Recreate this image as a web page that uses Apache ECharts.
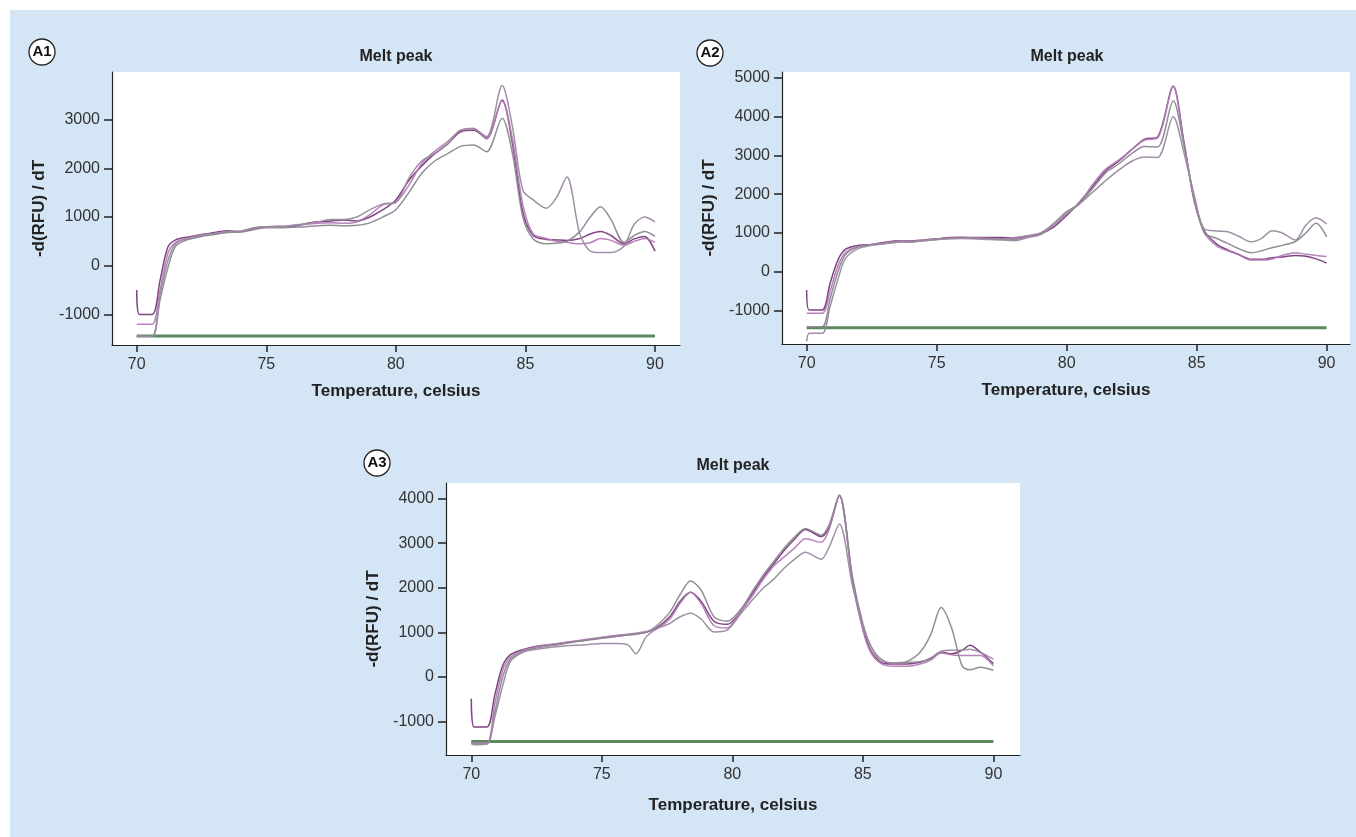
<!DOCTYPE html>
<html>
<head>
<meta charset="utf-8">
<script src="https://cdn.jsdelivr.net/npm/echarts@6/dist/echarts.min.js"></script>
<style>
  html, body { margin: 0; padding: 0; background: #fff; }
  #bg { position: absolute; left: 10px; top: 10px; width: 1346px; height: 827px; background: #d4e6f5; }
  #main { position: absolute; left: 0; top: 0; width: 1356px; height: 837px; }
</style>
</head>
<body>
<div id="bg"></div>
<div id="main"></div>
<script>
// temperature grids (celsius)
var tempsAB = [70, 70.1, 70.6, 70.9, 71.2, 71.5, 72, 72.5, 73, 73.5, 74, 74.5, 75, 75.5, 76, 76.5, 77, 77.5, 78, 78.5,
  79, 79.5, 80, 80.5, 81, 81.5, 82, 82.5, 83, 83.5, 84.1, 84.5, 84.9, 85.3, 85.8, 86.2, 86.6, 87.1, 87.5, 87.9,
  88.3, 88.8, 89.2, 89.6, 90];
var tempsC = [70, 70.1, 70.6, 70.9, 71.2, 71.5, 72, 72.5, 73, 73.5, 74, 74.5, 75, 75.5, 76, 76.3, 76.7, 77.1, 77.6, 78,
  78.4, 78.8, 79.3, 79.8, 80.3, 80.8, 81.2, 81.6, 82, 82.4, 82.8, 83.4, 83.7, 84.1, 84.6, 85, 85.3, 85.7, 86.2, 86.7,
  87.2, 87.6, 88, 88.4, 88.8, 89.1, 89.5, 90];

// A1 melt curves, -d(RFU)/dT
var a1Curve1 = [-500, -1000, -1000, -300, 380, 530, 590, 640, 680, 720, 700, 760, 800, 810, 800, 860, 900, 920, 940, 920,
  1000, 1150, 1350, 1750, 2050, 2300, 2500, 2750, 2780, 2620, 3400, 2500, 1100, 620, 540, 530, 520, 560, 650, 700,
  620, 450, 550, 600, 300];
var a1Curve2 = [-1200, -1200, -1200, -500, 250, 480, 570, 620, 660, 690, 700, 780, 800, 790, 820, 850, 870, 880, 870, 900,
  1050, 1250, 1300, 1650, 2100, 2350, 2550, 2780, 2820, 2600, 3380, 2600, 1250, 650, 560, 500, 480, 450, 470, 560,
  520, 420, 500, 560, 480];
var a1Curve3 = [-1450, -1450, -1450, -700, -50, 400, 540, 600, 640, 680, 690, 740, 780, 780, 790, 800, 820, 830, 820, 830,
  880, 1000, 1150, 1500, 1900, 2150, 2300, 2450, 2480, 2340, 3030, 2300, 1000, 550, 450, 460, 500, 700, 1000, 1210,
  950, 480, 620, 700, 600];
var a1Curve4 = [-1450, -1450, -1450, -600, 100, 450, 560, 630, 660, 700, 710, 770, 800, 800, 830, 860, 900, 950, 950, 1000,
  1150, 1270, 1300, 1800, 2150, 2300, 2500, 2780, 2800, 2650, 3700, 2850, 1550, 1350, 1180, 1400, 1820, 650, 300, 270,
  270, 400, 850, 1000, 900];

// A2 melt curves
var a2Curve1 = [-470, -990, -990, -300, 300, 580, 680, 700, 760, 800, 790, 820, 850, 880, 890, 880, 880, 880, 870, 920,
  980, 1150, 1450, 1800, 2200, 2600, 2850, 3150, 3420, 3480, 4790, 3400, 1850, 1050, 700, 560, 450, 320, 320, 360,
  380, 420, 400, 330, 220];
var a2Curve2 = [-1075, -1075, -1075, -500, 150, 500, 660, 700, 740, 790, 780, 810, 840, 870, 870, 870, 860, 850, 880, 930,
  1000, 1200, 1500, 1780, 2250, 2650, 2880, 3150, 3400, 3450, 4780, 3350, 1900, 1000, 650, 540, 440, 300, 300, 330,
  420, 490, 450, 420, 390];
var a2Curve3 = [-1420, -1420, -1420, -700, 0, 450, 640, 690, 730, 780, 760, 800, 830, 860, 870, 860, 850, 840, 830, 900,
  990, 1250, 1550, 1760, 2150, 2550, 2780, 3050, 3230, 3220, 4410, 3300, 1900, 1000, 850, 730, 600, 490, 540, 620,
  680, 780, 1000, 1250, 900];
var a2Curve4 = [-1800, -1590, -1590, -900, -200, 350, 600, 680, 720, 760, 770, 800, 830, 850, 860, 850, 830, 820, 800, 880,
  960, 1200, 1500, 1750, 2050, 2350, 2620, 2850, 2960, 2950, 4000, 3100, 2000, 1100, 1050, 1030, 920, 770, 860, 1060,
  1000, 820, 1200, 1390, 1230];

// A3 melt curves
var a3Curve1 = [-490, -1120, -1120, -400, 250, 500, 620, 690, 720, 760, 800, 840, 880, 920, 950, 970, 1000, 1100, 1350, 1700,
  1900, 1700, 1250, 1180, 1450, 1900, 2250, 2550, 2850, 3100, 3310, 3150, 3350, 4070, 2200, 1100, 600, 330, 290, 290,
  330, 420, 560, 520, 600, 710, 560, 300];
var a3Curve2 = [-1480, -1480, -1480, -600, 150, 450, 600, 680, 730, 770, 810, 850, 890, 930, 960, 980, 1020, 1080, 1300, 1650,
  1900, 1650, 1150, 1100, 1450, 1850, 2200, 2500, 2700, 2900, 3100, 3020, 3300, 4060, 2150, 1050, 550, 300, 240, 240,
  290, 380, 540, 500, 480, 480, 480, 250];
var a3Curve3 = [-1500, -1500, -1500, -800, 0, 400, 580, 650, 700, 740, 790, 830, 870, 900, 940, 960, 1000, 1150, 1450, 1850,
  2150, 1950, 1350, 1250, 1500, 1950, 2300, 2600, 2900, 3150, 3330, 3180, 3400, 4080, 2250, 1200, 700, 400, 310, 350,
  560, 950, 1560, 1100, 250, 160, 220, 150];
var a3Curve4 = [-1450, -1520, -1500, -900, -200, 350, 560, 620, 660, 690, 710, 730, 750, 750, 720, 520, 900, 1080, 1200, 1350,
  1430, 1300, 1010, 1050, 1400, 1750, 2000, 2200, 2450, 2650, 2800, 2640, 2900, 3430, 2050, 1150, 700, 350, 320, 330,
  350, 400, 580, 600, 600, 620, 550, 400];

// flat green trace along the bottom
var baseTemps = [70, 90];
var baseValues = [-1445, -1445];

var xTicks = [70, 75, 80, 85, 90];
var yTicksA1 = [-1000, 0, 1000, 2000, 3000];
var yTicksA2 = [-1000, 0, 1000, 2000, 3000, 4000, 5000];
var yTicksA3 = [-1000, 0, 1000, 2000, 3000, 4000];

var curveColors = ['#7a3a7c', '#b27cb6', '#8d8792', '#9b8aa0'];
var axisColor = '#222';
var labelFont = { fontFamily: 'Liberation Sans', fontSize: 16, color: '#333' };
var nameFont = { fontFamily: 'Liberation Sans', fontSize: 17, fontWeight: 'bold', color: '#222' };

function pairs(xs, ys) {
  return xs.map(function (x, i) { return [x, ys[i]]; });
}

function plain(v) { return String(Math.round(v)); }

function xAxisFor(idx, min, max, gap) {
  return {
    type: 'value', gridIndex: idx, min: min, max: max,
    name: 'Temperature, celsius', nameLocation: 'middle', nameGap: gap, nameTextStyle: nameFont,
    axisLine: { show: true, onZero: false, lineStyle: { color: axisColor, width: 1.2 } },
    axisTick: { show: true, length: 7, customValues: xTicks, lineStyle: { color: axisColor, width: 1.5 } },
    axisLabel: Object.assign({ margin: 12, customValues: xTicks, formatter: plain }, labelFont),
    splitLine: { show: false }
  };
}

function yAxisFor(idx, min, max, ticks) {
  return {
    type: 'value', gridIndex: idx, min: min, max: max,
    name: '-d(RFU) / dT', nameLocation: 'middle', nameGap: 64, nameRotate: 90, nameTextStyle: nameFont,
    axisLine: { show: true, onZero: false, lineStyle: { color: axisColor, width: 1.2 } },
    axisTick: { show: true, length: 8, customValues: ticks, lineStyle: { color: axisColor, width: 1.5 } },
    axisLabel: Object.assign({ margin: 12, customValues: ticks, formatter: plain }, labelFont),
    splitLine: { show: false }
  };
}

function panelSeries(idx, temps, curves) {
  var out = [{
    type: 'line', xAxisIndex: idx, yAxisIndex: idx, data: pairs(baseTemps, baseValues),
    showSymbol: false, silent: true, lineStyle: { color: '#5a8a5c', width: 3 }, z: 1
  }];
  curves.forEach(function (vals, k) {
    out.push({
      type: 'line', xAxisIndex: idx, yAxisIndex: idx, data: pairs(temps, vals),
      showSymbol: false, smooth: 0.3, silent: true,
      lineStyle: { color: curveColors[k], width: 1.5, opacity: 0.95 }, z: 2 + k
    });
  });
  return out;
}

function badge(x, y, txt) {
  return {
    type: 'group', x: x, y: y, children: [
      { type: 'circle', shape: { cx: 0, cy: 0, r: 13 }, style: { fill: '#fff', stroke: '#222', lineWidth: 1.3 } },
      { type: 'text', style: { x: 0, y: 0, text: txt, fill: '#111', font: 'bold 15px "Liberation Sans"', textAlign: 'center', textVerticalAlign: 'middle' } }
    ]
  };
}

function heading(x, y) {
  return {
    type: 'text', x: x, y: y,
    style: { text: 'Melt peak', fill: '#222', font: 'bold 16px "Liberation Sans"', textAlign: 'center', textVerticalAlign: 'middle' }
  };
}

var chart = echarts.init(document.getElementById('main'));
chart.setOption({
  backgroundColor: 'transparent',
  animation: false,
  grid: [
    { left: 112, top: 72, width: 568, height: 273, show: true, backgroundColor: '#fff', borderWidth: 0 },
    { left: 782, top: 72, width: 568, height: 272, show: true, backgroundColor: '#fff', borderWidth: 0 },
    { left: 446, top: 483, width: 574, height: 272, show: true, backgroundColor: '#fff', borderWidth: 0 }
  ],
  xAxis: [
    xAxisFor(0, 69.046, 90.965, 38),
    xAxisFor(1, 69.05, 90.9, 38),
    xAxisFor(2, 69.03, 91.02, 42)
  ],
  yAxis: [
    yAxisFor(0, -1628, 3977, yTicksA1),
    yAxisFor(1, -1866, 5154, yTicksA2),
    yAxisFor(2, -1749, 4350, yTicksA3)
  ],
  series: [].concat(
    panelSeries(0, tempsAB, [a1Curve1, a1Curve2, a1Curve3, a1Curve4]),
    panelSeries(1, tempsAB, [a2Curve1, a2Curve2, a2Curve3, a2Curve4]),
    panelSeries(2, tempsC, [a3Curve1, a3Curve2, a3Curve3, a3Curve4])
  ),
  graphic: [
    badge(42, 52, 'A1'), badge(710, 53, 'A2'), badge(377, 463, 'A3'),
    heading(396, 57), heading(1067, 57), heading(733, 466)
  ]
});
</script>
</body>
</html>
